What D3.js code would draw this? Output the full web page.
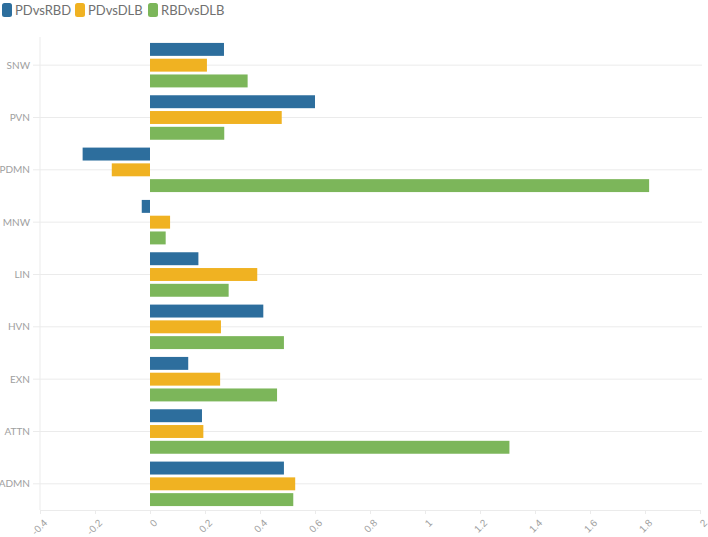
<!DOCTYPE html>
<html>
<head>
<meta charset="utf-8">
<script src="https://cdn.jsdelivr.net/npm/d3@7"></script>
<style>
  html, body { margin: 0; padding: 0; background: #fff; }
  svg { display: block; font-family: Lato, "Open Sans", sans-serif; }
</style>
</head>
<body>
<svg id="chart" width="708" height="537"></svg>
<script>
const categories = ["SNW", "PVN", "PDMN", "MNW", "LIN", "HVN", "EXN", "ATTN", "ADMN"];
const seriesNames = ["PDvsRBD", "PDvsDLB", "RBDvsDLB"];
const PDvsRBD  = [0.269, 0.600, -0.245, -0.030, 0.176, 0.412, 0.139, 0.189, 0.487];
const PDvsDLB  = [0.207, 0.479, -0.139, 0.073, 0.390, 0.258, 0.255, 0.194, 0.528];
const RBDvsDLB = [0.355, 0.270, 1.815, 0.057, 0.286, 0.487, 0.462, 1.307, 0.521];
const xTicks = [-0.4, -0.2, 0, 0.2, 0.4, 0.6, 0.8, 1, 1.2, 1.4, 1.6, 1.8, 2];
const colors = ["#2d6e9d", "#f0b222", "#7cb65a"];

const seriesValues = [PDvsRBD, PDvsDLB, RBDvsDLB];
const svg = d3.select("#chart");

const x = d3.scaleLinear().domain([-0.4, 2]).range([40, 700]);
const y = d3.scaleBand().domain(categories).range([39, 510]).paddingInner(0.15).paddingOuter(0.075);
const ySub = d3.scaleBand().domain(seriesNames).range([0, y.bandwidth()]).paddingInner(0.18);
const color = d3.scaleOrdinal().domain(seriesNames).range(colors);

// horizontal grid lines at category centers
svg.append("g").selectAll("line").data(categories).join("line")
  .attr("x1", 33).attr("x2", 702)
  .attr("y1", d => y(d) + y.bandwidth() / 2)
  .attr("y2", d => y(d) + y.bandwidth() / 2)
  .attr("stroke", "#ebebeb").attr("stroke-width", 1);

// left axis line
svg.append("line").attr("x1", x(-0.4)).attr("x2", x(-0.4)).attr("y1", 37).attr("y2", 510)
  .attr("stroke", "#ebebeb");

// bottom axis
const xAxis = svg.append("g").attr("transform", "translate(0,510)")
  .call(d3.axisBottom(x).tickValues(xTicks).tickSize(4).tickPadding(0).tickFormat(d => String(d)));
xAxis.select(".domain").attr("stroke", "#ebebeb");
xAxis.selectAll(".tick line").attr("stroke", "#ebebeb");
xAxis.selectAll(".tick text")
  .attr("fill", "#a0a0a0").attr("font-size", 10)
  .attr("text-anchor", "end")
  .attr("y", 0).attr("dy", "0.35em")
  .attr("transform", "translate(5,11) rotate(-45)");

// y labels
svg.append("g").selectAll("text").data(categories).join("text")
  .attr("x", 30).attr("y", d => y(d) + y.bandwidth() / 2)
  .attr("dy", "0.35em").attr("text-anchor", "end")
  .attr("fill", "#a0a0a0").attr("font-size", 10)
  .text(d => d);

// bars
const rows = [];
categories.forEach((c, i) => seriesNames.forEach((s, j) => rows.push({ cat: c, ser: s, val: seriesValues[j][i] })));
svg.append("g").selectAll("rect").data(rows).join("rect")
  .attr("x", d => x(Math.min(0, d.val)))
  .attr("width", d => Math.abs(x(d.val) - x(0)))
  .attr("y", d => y(d.cat) + ySub(d.ser))
  .attr("height", ySub.bandwidth())
  .attr("fill", d => color(d.ser));

// legend
const legendX = [2, 75, 148];
const lg = svg.append("g").selectAll("g").data(seriesNames).join("g")
  .attr("transform", (d, i) => `translate(${legendX[i]},3)`);
lg.append("rect").attr("width", 10).attr("height", 14).attr("rx", 2.5)
  .attr("fill", d => color(d));
lg.append("text").attr("x", 13).attr("y", 7).attr("dy", "0.36em")
  .attr("fill", "#707070").attr("font-size", 13).text(d => d);
</script>
</body>
</html>
